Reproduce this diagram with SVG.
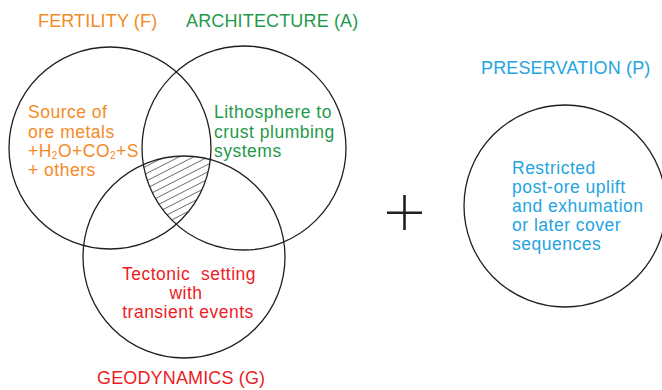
<svg xmlns="http://www.w3.org/2000/svg" width="662" height="390" viewBox="0 0 662 390">
  <style>
    .ring { fill: none; stroke: #231f20; stroke-width: 1.3; }
    .t { font-family: "Liberation Sans", Arial, sans-serif; font-size: 17.5px; letter-spacing: 0.5px; }
    .title { font-family: "Liberation Sans", Arial, sans-serif; font-size: 18px; letter-spacing: 0.15px; }
    .sub { font-size: 10px; }
    .f { fill: #f58a1f; }
    .a { fill: #1f9a4a; }
    .g { fill: #ed1c24; }
    .p { fill: #24a4e0; }
  </style>
  <defs>
    <pattern id="hatch" patternUnits="userSpaceOnUse" width="20" height="6.6" patternTransform="rotate(-27)">
      <line x1="0" y1="3.3" x2="20" y2="3.3" stroke="#555" stroke-width="0.8"/>
    </pattern>
    <clipPath id="clipF"><circle cx="110" cy="148" r="101"/></clipPath>
    <clipPath id="clipA"><circle cx="244" cy="148" r="102"/></clipPath>
    <clipPath id="clipG"><circle cx="184" cy="257" r="101"/></clipPath>
  </defs>

  <rect width="662" height="390" fill="#ffffff"/>

  <!-- overlap of all three fields, hatched -->
  <g id="overlap" clip-path="url(#clipG)">
    <g clip-path="url(#clipA)">
      <rect x="100" y="130" width="140" height="130" fill="url(#hatch)" clip-path="url(#clipF)"/>
    </g>
  </g>

  <g id="fertility">
    <circle class="ring" cx="110" cy="148" r="101"/>
    <text class="title f" x="38" y="27">FERTILITY (F)</text>
    <text class="t f" x="28" y="118.3">Source of</text>
    <text class="t f" x="28" y="137.5">ore metals</text>
    <text class="t f" x="28" y="156.7">+H<tspan class="sub" dy="2.5">2</tspan><tspan dy="-2.5">O+CO</tspan><tspan class="sub" dy="2.5">2</tspan><tspan dy="-2.5">+S</tspan></text>
    <text class="t f" x="28" y="176">+ others</text>
  </g>

  <g id="architecture">
    <circle class="ring" cx="244" cy="148" r="102"/>
    <text class="title a" x="186" y="27">ARCHITECTURE (A)</text>
    <text class="t a" x="214" y="118.3">Lithosphere to</text>
    <text class="t a" x="214" y="137.5">crust plumbing</text>
    <text class="t a" x="214" y="156.7">systems</text>
  </g>

  <g id="geodynamics">
    <circle class="ring" cx="184" cy="257" r="101"/>
    <text class="t g" x="189" y="280" text-anchor="middle" xml:space="preserve">Tectonic  setting</text>
    <text class="t g" x="186" y="299" text-anchor="middle">with</text>
    <text class="t g" x="188" y="318" text-anchor="middle">transient events</text>
    <text class="title g" x="97" y="384">GEODYNAMICS (G)</text>
  </g>

  <g id="plus">
    <line x1="404.5" y1="195" x2="404.5" y2="230" stroke="#231f20" stroke-width="2.6"/>
    <line x1="387" y1="212.7" x2="422" y2="212.7" stroke="#231f20" stroke-width="2.6"/>
  </g>

  <g id="preservation">
    <circle class="ring" cx="565" cy="206" r="101"/>
    <text class="title p" x="481" y="74">PRESERVATION (P)</text>
    <text class="t p" x="512" y="174">Restricted</text>
    <text class="t p" x="512" y="193">post-ore uplift</text>
    <text class="t p" x="512" y="212">and exhumation</text>
    <text class="t p" x="512" y="231">or later cover</text>
    <text class="t p" x="512" y="250">sequences</text>
  </g>
</svg>
